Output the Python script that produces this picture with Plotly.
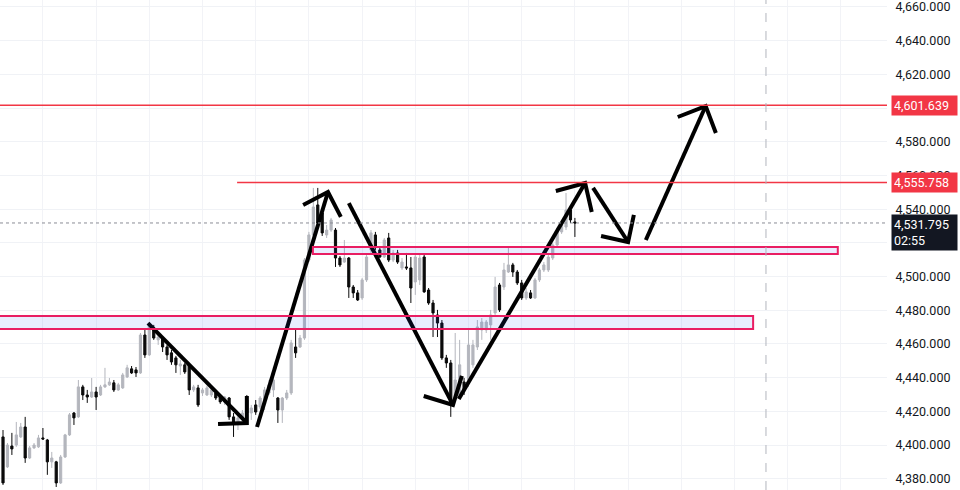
import plotly.graph_objects as go

# OHLC, one bar per step (oldest first)
opens = [4404.8, 4387.0, 4399.4, 4400.0, 4404.8, 4410.7, 4392.3, 4398.3, 4398.9, 4404.2,
         4403.0, 4390.0, 4390.0, 4377.5, 4392.9, 4406.0, 4419.0, 4416.7, 4434.5, 4429.7,
         4428.5, 4431.5, 4429.7, 4434.5, 4435.7, 4436.9, 4432.7, 4433.9, 4440.4, 4445.2,
         4444.6, 4442.8, 4465.3, 4453.5, 4469.5, 4462.4, 4463.5, 4458.2, 4454.7, 4451.7,
         4446.9, 4447.6, 4447.6, 4432.7, 4433.9, 4430.9, 4429.7, 4429.7, 4430.9, 4428.5,
         4425.6, 4427.9, 4416.7, 4413.1, 4414.9, 4426.7, 4419.0, 4423.8, 4422.6, 4426.7,
         4430.9, 4432.7, 4427.9, 4420.8, 4427.9, 4430.9, 4458.2, 4458.2, 4463.5, 4509.8,
         4524.7, 4542.5, 4537.7, 4524.7, 4527.6, 4527.6, 4511.0, 4508.6, 4511.0, 4493.8,
         4490.3, 4487.3, 4498.0, 4515.8, 4524.7, 4515.8, 4511.6, 4522.9, 4509.8, 4514.0,
         4505.1, 4505.7, 4505.1, 4496.8, 4498.0, 4511.6, 4492.0, 4484.3, 4477.2, 4472.4,
         4451.7, 4448.7, 4428.5, 4429.7, 4437.4, 4438.6, 4447.6, 4458.2, 4468.3, 4468.3,
         4471.3, 4478.4, 4495.0, 4493.8, 4502.7, 4506.9, 4502.7, 4496.2, 4487.3, 4490.3,
         4487.3, 4498.0, 4503.9, 4503.9, 4511.0, 4518.7, 4526.5, 4529.4, 4539.5, 4532.4]
highs = [4408.9, 4401.2, 4407.2, 4413.7, 4413.1, 4416.7, 4399.4, 4401.2, 4406.0, 4410.1,
         4403.6, 4395.9, 4390.6, 4394.1, 4406.6, 4419.0, 4419.6, 4438.6, 4435.7, 4432.7,
         4439.8, 4434.5, 4435.7, 4445.8, 4439.8, 4438.6, 4436.9, 4442.8, 4447.6, 4446.9,
         4446.3, 4466.5, 4468.3, 4473.0, 4471.3, 4465.3, 4464.7, 4459.4, 4456.4, 4452.9,
         4450.5, 4448.7, 4448.7, 4435.7, 4435.7, 4433.9, 4435.1, 4433.9, 4432.1, 4429.7,
         4429.1, 4428.5, 4419.0, 4417.9, 4420.8, 4429.7, 4423.8, 4426.7, 4429.1, 4434.5,
         4438.6, 4440.4, 4428.5, 4428.5, 4432.7, 4462.4, 4468.3, 4465.3, 4511.0, 4526.5,
         4552.6, 4552.6, 4539.5, 4530.6, 4534.8, 4528.8, 4512.2, 4521.7, 4511.6, 4495.0,
         4492.0, 4499.2, 4512.8, 4527.6, 4526.5, 4517.6, 4522.9, 4525.9, 4515.8, 4515.8,
         4511.0, 4514.0, 4511.6, 4514.0, 4512.8, 4512.8, 4493.2, 4486.1, 4480.2, 4474.2,
         4453.5, 4450.5, 4466.5, 4462.4, 4439.8, 4468.3, 4462.4, 4474.2, 4475.4, 4474.2,
         4480.2, 4499.8, 4496.2, 4508.1, 4517.0, 4508.1, 4503.9, 4498.0, 4493.2, 4492.0,
         4499.2, 4505.1, 4508.6, 4512.8, 4519.9, 4528.8, 4532.4, 4549.6, 4540.7, 4534.8]
lows = [4376.3, 4386.4, 4394.1, 4398.9, 4404.2, 4389.4, 4391.7, 4397.7, 4398.3, 4403.0,
        4382.3, 4386.4, 4375.1, 4376.9, 4392.3, 4405.4, 4411.9, 4416.1, 4426.7, 4425.0,
        4427.9, 4420.8, 4429.1, 4433.9, 4435.1, 4431.5, 4432.1, 4433.3, 4439.8, 4442.2,
        4440.4, 4442.2, 4451.7, 4452.9, 4462.4, 4459.4, 4455.2, 4450.5, 4447.6, 4442.8,
        4441.6, 4442.2, 4429.7, 4431.5, 4422.6, 4429.1, 4429.1, 4428.5, 4426.7, 4424.4,
        4423.8, 4414.9, 4404.8, 4408.9, 4412.5, 4414.9, 4414.9, 4417.9, 4421.4, 4420.8,
        4429.7, 4428.5, 4413.1, 4413.1, 4426.7, 4429.7, 4451.7, 4457.6, 4462.4, 4508.6,
        4523.5, 4530.6, 4524.1, 4522.9, 4526.5, 4505.7, 4505.7, 4508.1, 4487.3, 4487.3,
        4485.5, 4486.1, 4496.8, 4514.0, 4515.8, 4511.0, 4511.0, 4508.6, 4508.6, 4507.5,
        4503.9, 4503.9, 4484.3, 4489.1, 4495.0, 4490.3, 4483.2, 4464.1, 4464.1, 4450.5,
        4445.8, 4416.7, 4426.7, 4427.9, 4429.7, 4434.5, 4445.8, 4456.4, 4462.4, 4466.5,
        4462.4, 4476.0, 4479.0, 4492.0, 4502.1, 4499.8, 4495.0, 4486.1, 4486.1, 4486.7,
        4486.7, 4496.8, 4502.7, 4502.7, 4509.8, 4517.6, 4525.3, 4527.6, 4531.8, 4523.5]
closes = [4377.5, 4400.0, 4397.7, 4406.0, 4410.7, 4392.3, 4398.3, 4400.0, 4404.2, 4403.6,
          4390.0, 4392.3, 4377.5, 4392.9, 4406.0, 4417.9, 4416.1, 4434.5, 4429.7, 4428.5,
          4431.5, 4428.5, 4434.5, 4435.7, 4437.4, 4432.7, 4435.7, 4441.6, 4445.8, 4442.8,
          4442.8, 4465.3, 4453.5, 4471.3, 4463.5, 4464.1, 4458.2, 4453.5, 4449.3, 4447.6,
          4448.1, 4443.4, 4432.7, 4434.5, 4423.8, 4432.7, 4433.9, 4432.7, 4427.9, 4425.6,
          4428.5, 4416.7, 4413.1, 4416.1, 4419.0, 4419.0, 4422.0, 4419.6, 4427.9, 4432.7,
          4435.7, 4438.6, 4420.8, 4427.9, 4430.9, 4460.6, 4454.7, 4463.5, 4509.8, 4524.7,
          4541.3, 4531.8, 4525.9, 4527.6, 4533.6, 4511.0, 4506.9, 4511.0, 4493.8, 4490.3,
          4486.1, 4498.0, 4511.6, 4525.9, 4517.6, 4511.6, 4521.7, 4509.8, 4514.0, 4508.6,
          4508.6, 4505.1, 4493.2, 4511.6, 4511.0, 4490.9, 4484.3, 4478.4, 4472.4, 4451.7,
          4448.7, 4425.0, 4438.6, 4447.6, 4432.7, 4459.4, 4459.4, 4470.1, 4473.0, 4473.0,
          4477.2, 4493.8, 4480.2, 4503.9, 4506.9, 4502.7, 4496.2, 4487.3, 4490.9, 4487.3,
          4498.0, 4503.9, 4506.9, 4511.6, 4518.7, 4527.6, 4530.6, 4539.5, 4533.6, 4531.795]
bars = list(range(len(closes)))

# levels and zones drawn on the chart
target_hi = 4601.639
target_lo = 4555.758
last_price = 4531.795
countdown = "02:55"
zone_top = (4513.4, 4517.5, 69.9, 188.3)      # low, high, from bar, to bar
zone_bottom = (4468.9, 4476.6, -5, 169.2)
target_lo_start = 52.8
session_end = 172.1

# hand-drawn arrows: start, tip, arm A, arm B  (bar, price)
arrows = [
    [(32.7, 4472.4), (55.0, 4413.1), (48.5, 4412.5), (55.0, 4429.1)],
    [(57.3, 4410.7), (73.3, 4550.2), (67.7, 4542.5), (76.2, 4535.4)],
    [(78.0, 4543.6), (101.5, 4423.8), (94.9, 4429.1), (103.5, 4441.0)],
    [(102.8, 4427.3), (131.3, 4555.5), (124.7, 4550.8), (132.8, 4538.3)],
    [(133.1, 4552.6), (141.0, 4520.5), (134.9, 4524.1), (142.3, 4536.6)],
    [(145.0, 4521.7), (158.5, 4601.2), (152.2, 4594.7), (160.8, 4585.2)],
]

RED = "#f23645"
PINK = "#e91e63"
UP = "#b4b6bd"
DOWN = "#0a0a0a"

fig = go.Figure()
fig.add_trace(go.Candlestick(
    x=bars, open=opens, high=highs, low=lows, close=closes,
    increasing=dict(line=dict(color=UP, width=1), fillcolor=UP),
    decreasing=dict(line=dict(color=DOWN, width=1), fillcolor=DOWN),
    showlegend=False, hoverinfo="skip",
))

ax, ay = [], []
for start, tip, arm_a, arm_b in arrows:
    ax += [start[0], tip[0], None, arm_a[0], tip[0], arm_b[0], None]
    ay += [start[1], tip[1], None, arm_a[1], tip[1], arm_b[1], None]
fig.add_trace(go.Scatter(x=ax, y=ay, mode="lines", line=dict(color="black", width=4),
                         showlegend=False, hoverinfo="skip"))

# zones
for lo, hi, x0, x1 in (zone_top, zone_bottom):
    fig.add_shape(type="rect", x0=x0, x1=x1, y0=lo, y1=hi,
                  line=dict(color=PINK, width=2), fillcolor="rgba(33,82,243,0.10)", layer="above")

# horizontal levels
fig.add_shape(type="line", xref="paper", x0=0, x1=1, y0=target_hi, y1=target_hi,
              line=dict(color=RED, width=1.5))
fig.add_shape(type="line", xref="x", x0=target_lo_start, x1=250, y0=target_lo, y1=target_lo,
              line=dict(color=RED, width=1.5))
fig.add_shape(type="line", xref="paper", x0=0, x1=1, y0=last_price, y1=last_price,
              line=dict(color="#8a8d96", width=1, dash="dot"))
fig.add_shape(type="line", x0=session_end, x1=session_end, yref="paper", y0=0, y1=1,
              line=dict(color="#b2b5be", width=1, dash="dash"))

# price tags on the axis
for val in (target_hi, target_lo):
    fig.add_annotation(x=1, xref="paper", xanchor="left", xshift=4, y=val, yref="y",
                       text=f"{val:,.3f}", showarrow=False, bgcolor=RED, borderpad=2,
                       width=61, align="left",
                       font=dict(color="white", size=12.5, family="Roboto"))
fig.add_annotation(x=1, xref="paper", xanchor="left", xshift=4, y=last_price, yref="y",
                   yanchor="top", yshift=9, align="left", width=61,
                   text=f"{last_price:,.3f}<br>{countdown}", showarrow=False, bgcolor="#131722",
                   borderpad=2, font=dict(color="white", size=12.5, family="Roboto"))

fig.update_xaxes(range=[-0.68, 199.4], showticklabels=False, showgrid=True, gridcolor="#f2f3f7",
                 tick0=9, dtick=12, zeroline=False, rangeslider_visible=False, showline=False,
                 automargin=False)
fig.update_yaxes(side="right", range=[4373.3, 4664.15], dtick=20, tickformat=",.3f",
                 showgrid=True, gridcolor="#f0f2f6", zeroline=False, ticks="outside",
                 ticklen=5, tickcolor="white", showline=False, automargin=False,
                 ticklabeloverflow="allow",
                 tickfont=dict(family="Roboto", size=12.5, color="#131722"))
fig.update_layout(width=960, height=490, margin=dict(l=0, r=73, t=0, b=0, autoexpand=False),
                  paper_bgcolor="white", plot_bgcolor="white", showlegend=False)

# the page body has a default 8px margin; remove it so the chart sits flush
fig.write_html("out.html", config={"displayModeBar": False},
               post_script="document.body.style.margin='0';")
